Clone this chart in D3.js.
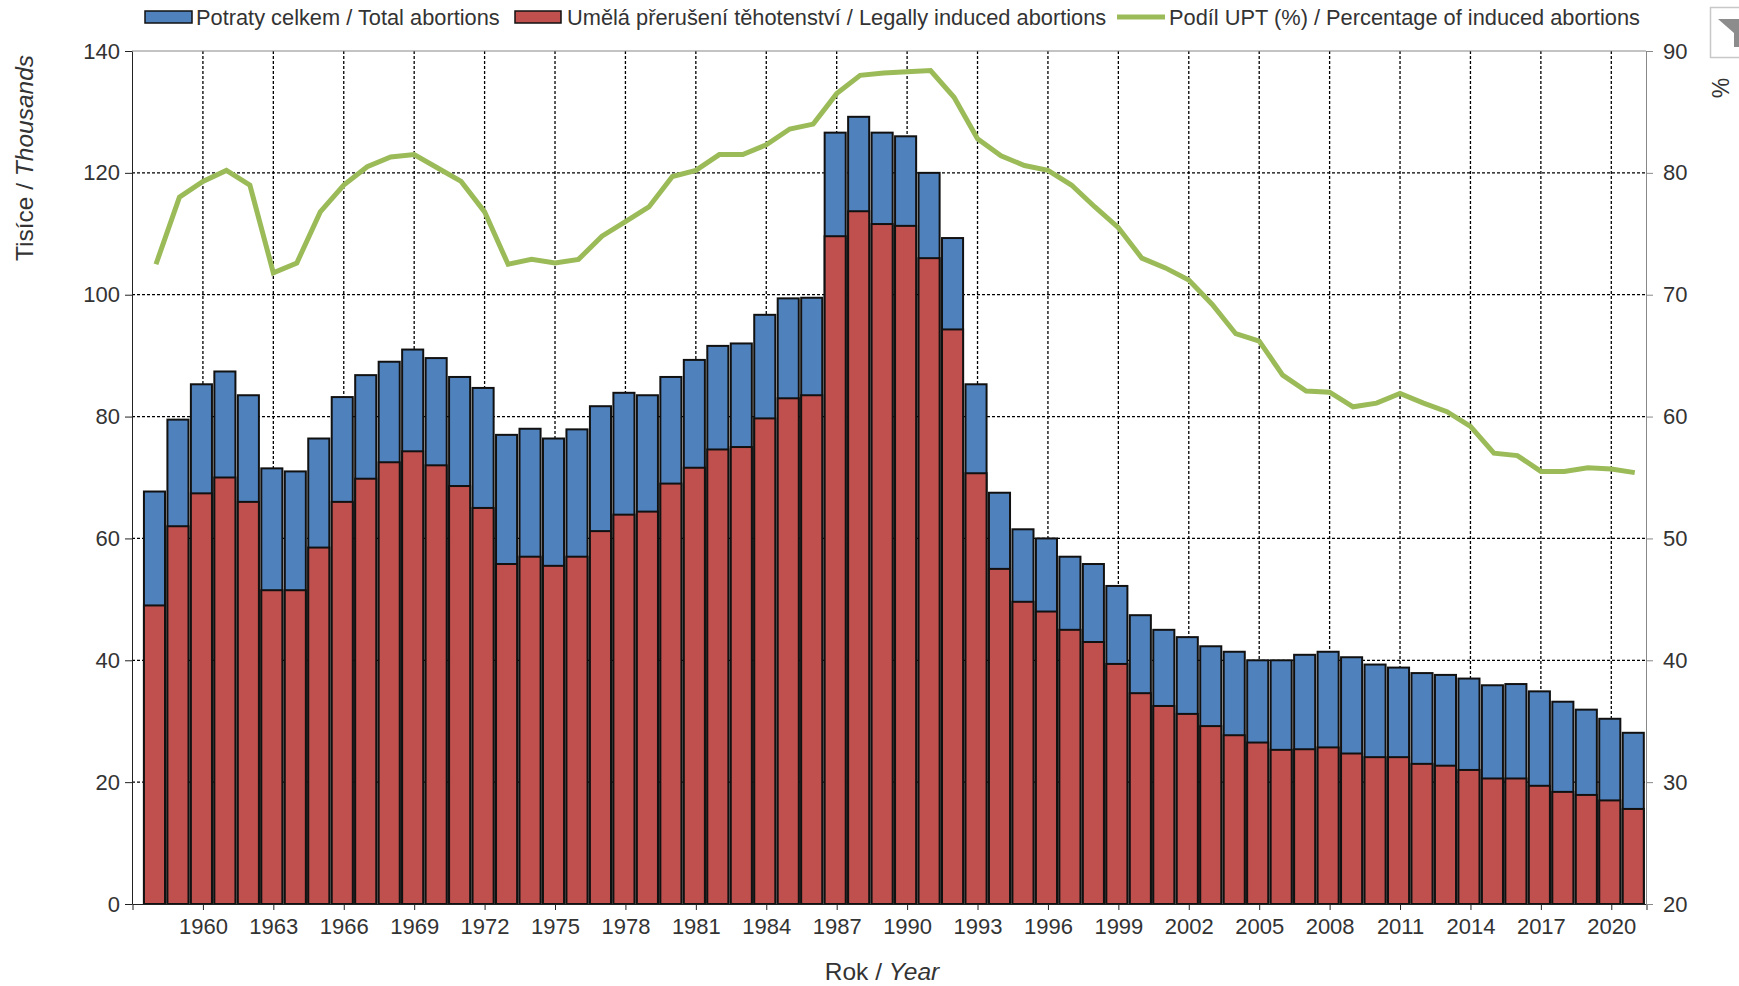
<!DOCTYPE html>
<html>
<head>
<meta charset="utf-8">
<script src="https://cdn.jsdelivr.net/npm/d3@7"></script>
<style>
  body { margin: 0; background: #fff; }
  svg { display: block; }
  text { font-family: "Liberation Sans", Arial, sans-serif; fill: #333; }
</style>
</head>
<body>
<div id="chart"></div>
<script>
/* DATA */
const years = d3.range(1958, 2022);
const total = [67.7, 79.5, 85.3, 87.4, 83.5, 71.5, 71, 76.4, 83.2, 86.8, 89, 91, 89.6, 86.5, 84.7, 77,
  78, 76.4, 77.9, 81.7, 83.9, 83.5, 86.5, 89.3, 91.6, 92, 96.7, 99.4, 99.5, 126.6, 129.2, 126.6,
  126, 120, 109.3, 85.3, 67.5, 61.5, 60, 57, 55.8, 52.2, 47.4, 45, 43.8, 42.3, 41.4, 40,
  40, 40.9, 41.4, 40.5, 39.3, 38.8, 37.9, 37.6, 37, 35.9, 36.1, 34.9, 33.2, 31.9, 30.4, 28.1];
const induced = [49, 62, 67.4, 70, 66, 51.5, 51.5, 58.5, 66, 69.8, 72.5, 74.3, 72, 68.6, 65, 55.8,
  57, 55.5, 57, 61.2, 63.9, 64.4, 69, 71.6, 74.6, 75, 79.7, 83, 83.5, 109.6, 113.7, 111.6,
  111.3, 106, 94.3, 70.7, 55, 49.6, 48, 45, 43, 39.4, 34.6, 32.5, 31.2, 29.2, 27.7, 26.5,
  25.3, 25.4, 25.7, 24.7, 24.1, 24.1, 23, 22.7, 22, 20.6, 20.6, 19.4, 18.4, 17.9, 17, 15.6];
const share = [72.5, 78, 79.3, 80.2, 79, 71.8, 72.6, 76.8, 79, 80.5, 81.3, 81.5, 80.4, 79.3, 76.8, 72.5,
  72.9, 72.6, 72.9, 74.8, 76, 77.2, 79.7, 80.2, 81.5, 81.5, 82.3, 83.6, 84, 86.5, 88, 88.2,
  88.3, 88.4, 86.2, 82.8, 81.4, 80.6, 80.2, 79, 77.2, 75.5, 73, 72.2, 71.2, 69.2, 66.8, 66.2,
  63.4, 62.1, 62, 60.8, 61.1, 61.9, 61.1, 60.4, 59.2, 57, 56.8, 55.5, 55.5, 55.8, 55.7, 55.4];
const yearTicks = d3.range(1960, 2021, 3);
const leftTicks = d3.range(0, 141, 20);
const rightTicks = d3.range(20, 91, 10);
const legendLabels = [
  "Potraty celkem / Total abortions",
  "Umělá přerušení těhotenství / Legally induced abortions",
  "Podíl UPT (%) / Percentage of induced abortions"
];

/* CONSTANTS */
const width = 1739,
  height = 986,
  margin = { top: 51, bottom: 82, left: 132, right: 93 },
  blue = "#4f81bd",
  red = "#c0504d",
  green = "#9bbb59";

const svg = d3.select("#chart")
  .append("svg")
  .attr("width", width)
  .attr("height", height);

//SCALES
const xScale = d3.scaleLinear()
  .domain([1957, 2021.5])
  .range([margin.left + 0.5, width - margin.right + 0.5]);

const yScale = d3.scaleLinear()
  .domain([0, 140])
  .range([height - margin.bottom, margin.top]);

const y2Scale = d3.scaleLinear()
  .domain([20, 90])
  .range([height - margin.bottom, margin.top]);

const barWidth = (xScale(1958) - xScale(1957)) - 2.4;
const barShift = -1.5; // bars sit a touch left of the ticks

//GRID
svg.append("g")
  .selectAll("line")
  .data(yearTicks)
  .join("line")
  .attr("x1", d => xScale(d))
  .attr("x2", d => xScale(d))
  .attr("y1", margin.top)
  .attr("y2", height - margin.bottom)
  .attr("stroke", "#000")
  .attr("stroke-width", 1.3)
  .attr("stroke-dasharray", "3,2");

svg.append("g")
  .selectAll("line")
  .data(leftTicks.slice(1, -1))
  .join("line")
  .attr("x1", margin.left)
  .attr("x2", width - margin.right)
  .attr("y1", d => yScale(d))
  .attr("y2", d => yScale(d))
  .attr("stroke", "#000")
  .attr("stroke-width", 1.3)
  .attr("stroke-dasharray", "3,2");

//BARS
svg.append("g")
  .selectAll("rect")
  .data(years)
  .join("rect")
  .attr("x", d => xScale(d) - barWidth / 2 + barShift)
  .attr("width", barWidth)
  .attr("y", (d, i) => yScale(total[i]))
  .attr("height", (d, i) => yScale(0) - yScale(total[i]))
  .attr("fill", blue)
  .attr("stroke", "#111")
  .attr("stroke-width", 2);

svg.append("g")
  .selectAll("rect")
  .data(years)
  .join("rect")
  .attr("x", d => xScale(d) - barWidth / 2 + barShift)
  .attr("width", barWidth)
  .attr("y", (d, i) => yScale(induced[i]))
  .attr("height", (d, i) => yScale(0) - yScale(induced[i]))
  .attr("fill", red)
  .attr("stroke", "#111")
  .attr("stroke-width", 2);

//LINE
const line = d3.line()
  .x(d => xScale(d))
  .y((d, i) => y2Scale(share[i]));

svg.append("path")
  .datum(years)
  .attr("d", line)
  .attr("fill", "none")
  .attr("stroke", green)
  .attr("stroke-width", 5);

//AXES
const xAxis = d3.axisBottom(xScale)
  .tickValues(yearTicks)
  .tickFormat(d3.format("d"))
  .tickSize(6)
  .tickPadding(8);

const yAxis = d3.axisLeft(yScale)
  .tickValues(leftTicks)
  .tickSize(7)
  .tickPadding(5);

const y2Axis = d3.axisRight(y2Scale)
  .tickValues(rightTicks)
  .tickSize(7)
  .tickPadding(10);

const xAxisGroup = svg.append("g")
  .attr("transform", `translate(0, ${height - margin.bottom})`)
  .call(xAxis);

const yAxisGroup = svg.append("g")
  .attr("transform", `translate(${margin.left}, 0)`)
  .call(yAxis);

const y2AxisGroup = svg.append("g")
  .attr("transform", `translate(${width - margin.right}, 0)`)
  .call(y2Axis);

xAxisGroup.selectAll("line, path").attr("stroke", "#222");
yAxisGroup.selectAll("line, path").attr("stroke", "#222");
y2AxisGroup.selectAll("line, path").attr("stroke", "#888");

svg.selectAll(".tick text")
  .attr("font-size", 22)
  .style("font-family", '"Liberation Sans", Arial, sans-serif')
  .attr("fill", "#333");

// the top edge of the plot
svg.append("line")
  .attr("x1", margin.left)
  .attr("x2", width - margin.right)
  .attr("y1", margin.top)
  .attr("y2", margin.top)
  .attr("stroke", "#888");

//AXIS TITLES
const yTitle = svg.append("text")
  .attr("transform", `translate(33, 158)rotate(-90)`)
  .attr("text-anchor", "middle")
  .attr("font-size", 24.5);
yTitle.append("tspan").text("Tisíce / ");
yTitle.append("tspan").attr("font-style", "italic").text("Thousands");

const xTitle = svg.append("text")
  .attr("x", 882)
  .attr("y", 980)
  .attr("text-anchor", "middle")
  .attr("font-size", 24.5);
xTitle.append("tspan").text("Rok / ");
xTitle.append("tspan").attr("font-style", "italic").text("Year");

svg.append("text")
  .attr("transform", `translate(1729, 88)rotate(-90)`)
  .attr("text-anchor", "middle")
  .attr("font-size", 23)
  .text("%");

//LEGEND
const legendY = 17;
const legend = svg.append("g");

legend.append("rect")
  .attr("x", 145).attr("y", legendY - 6).attr("width", 47).attr("height", 12)
  .attr("fill", blue).attr("stroke", "#111").attr("stroke-width", 1.5);
legend.append("rect")
  .attr("x", 515).attr("y", legendY - 6).attr("width", 46).attr("height", 12)
  .attr("fill", red).attr("stroke", "#111").attr("stroke-width", 1.5);
legend.append("line")
  .attr("x1", 1117).attr("x2", 1165).attr("y1", legendY).attr("y2", legendY)
  .attr("stroke", green).attr("stroke-width", 5);

legend.selectAll("text")
  .data(legendLabels)
  .join("text")
  .attr("x", (d, i) => [196, 567, 1169][i])
  .attr("y", legendY + 7.5)
  .attr("font-size", 21.8)
  .text(d => d);

//FILTER ICON (cut off by the window edge)
const icon = svg.append("g");
icon.append("rect")
  .attr("x", 1710.5).attr("y", 7.5).attr("width", 40).attr("height", 50)
  .attr("fill", "#fff").attr("stroke", "#c8c8c8").attr("stroke-width", 1.5);
icon.append("path")
  .attr("d", "M1718,19 H1745 V47 H1734 V33 Z")
  .attr("fill", "#8c8c8c");
</script>
</body>
</html>
